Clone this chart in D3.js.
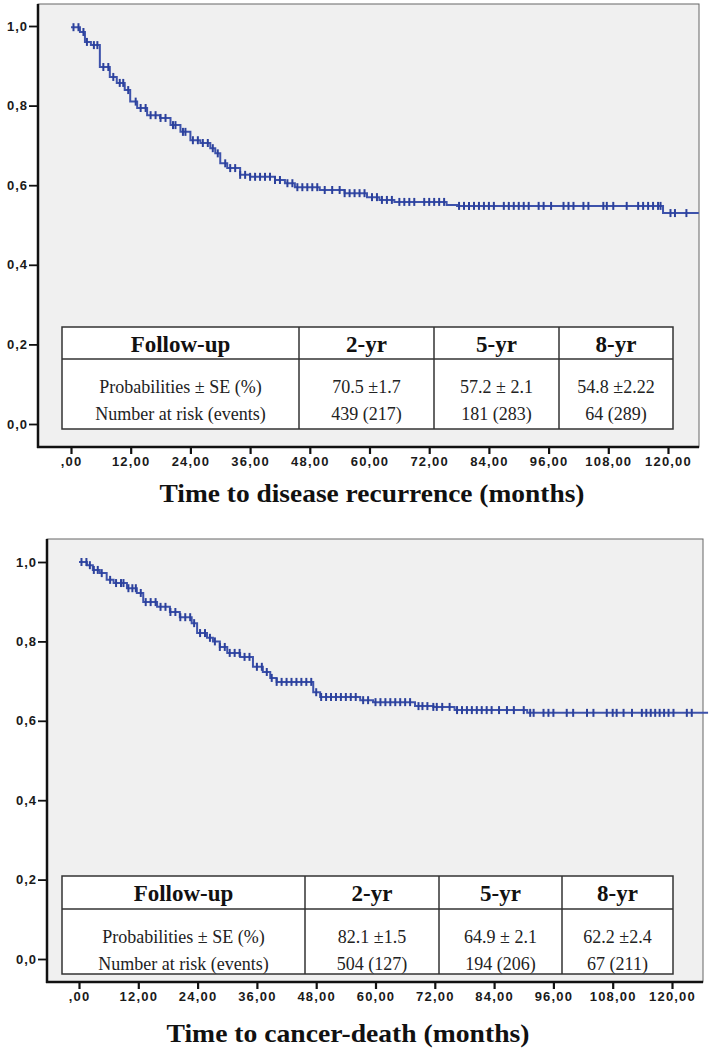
<!DOCTYPE html>
<html><head><meta charset="utf-8">
<script src="https://cdn.jsdelivr.net/npm/d3@7"></script>
<style>body{margin:0;background:#fff}svg{display:block}</style>
</head><body>
<svg id="c" width="709" height="1050"></svg>
<script>
// ---------- data ----------
const xTicks = [0,12,24,36,48,60,72,84,96,108,120];
const xTickLabels = [",00","12,00","24,00","36,00","48,00","60,00","72,00","84,00","96,00","108,00","120,00"];
const yTicks = [0,0.2,0.4,0.6,0.8,1.0];
const yTickLabels = ["0,0","0,2","0,4","0,6","0,8","1,0"];

// Disease recurrence: step changes [month, survival]
const recTimes = [0,1.8,2.8,4.0,5.8,7.8,9.2,10.8,11.9,13.3,15.3,17.9,20,22,24,26,28,29,30,31.4,34,36,41,43,45,50,55,59.5,62,65,75.5,77.6,119,126.2];
const recSurv  = [0.997,0.985,0.96,0.952,0.897,0.872,0.857,0.839,0.81,0.794,0.776,0.769,0.751,0.734,0.713,0.706,0.693,0.68,0.655,0.643,0.626,0.621,0.613,0.605,0.595,0.588,0.58,0.57,0.563,0.558,0.55,0.548,0.53,0.53];
const recCensor = [0.5,1.5,2.5,3.2,4.6,5.3,6.5,7.5,8.5,9.8,10.5,11.5,13,14,15,16,17,18,19,20.5,21,22.5,23,24.5,25.5,26.5,27.5,28.5,29.5,31,32,33,34,35,36,37,38,39,40,41,42,43.5,44.5,45.5,46.5,47.5,48.5,49.5,51,52.5,54,55,56,57,58,59,60.5,61.5,62.5,63.5,64.5,66,67,68,69,71,72,73,74,75,78,79,80,81,82,83,84,85,87,88,89,90,91,92,94,95,96.5,99,100,101,103,104,107,107.7,109,111.7,114,115,116,117,118,118.5,120.5,121.4,123.7];

// Cancer death
const deathTimes = [0,1.6,2.8,4.2,5.6,7,9.7,11.7,13,15.8,18.4,20.4,22.8,23.9,25.9,27.1,28.5,30,32.6,35.2,37.2,38.7,40,47.4,48.8,56.9,59.5,68,71.7,76,90.7,127.3];
const deathSurv  = [1.0,0.992,0.98,0.972,0.955,0.947,0.934,0.922,0.899,0.887,0.874,0.861,0.846,0.821,0.809,0.8,0.786,0.771,0.761,0.736,0.723,0.708,0.698,0.672,0.66,0.652,0.647,0.637,0.635,0.627,0.62,0.62];
const deathCensor = [0.5,1.5,2.2,3,3.8,4.6,6.3,7.5,8.5,9,10,10.8,11.5,12.5,13.5,14.5,15.5,16.5,17.5,18.5,19.5,20.5,21.5,22.5,23.3,24.5,25.5,26.5,27.5,28.5,29.5,30.5,31.5,32.5,33.5,34.5,36,37,38,39,40,41,42,43,44,45,46,47,48,49,50,51,52,53,54,55,56,57.5,58.5,60,61,62,63,64,65,66,67,68.7,69.5,70.5,71.7,72.4,73.5,75,76.5,77.5,78.5,79.5,80.5,81.5,82.5,83.5,85,86.6,88,90,91.3,92,94,95,96,98.7,100,102.8,104.1,106.8,108,108.8,110.2,111.9,113.9,114.8,115.7,116.6,117.5,118.4,119.3,120.3,123,124];

// tables
const colHeads = ["Follow-up","2-yr","5-yr","8-yr"];
const rowLabels = ["Probabilities \u00b1 SE (%)","Number at risk (events)"];
const recProb = ["70.5 \u00b11.7","57.2 \u00b1 2.1","54.8 \u00b12.22"];
const recRisk = ["439 (217)","181 (283)","64 (289)"];
const deathProb = ["82.1 \u00b11.5","64.9 \u00b1 2.1","62.2 \u00b12.4"];
const deathRisk = ["504 (127)","194 (206)","67 (211)"];
const recTitle = "Time to disease recurrence (months)";
const deathTitle = "Time to cancer-death (months)";

// ---------- drawing ----------
const svg = d3.select("#c");
const LINE = "#3d52ab", MARK = "#2c419c";

function panel(cfg){
  const g = svg.append("g");
  const x = d3.scaleLinear().domain([0,120]).range([cfg.x0, cfg.x120]);
  const y = d3.scaleLinear().domain([0,1]).range([cfg.y0, cfg.y1]);
  const F = cfg.frame;
  g.append("rect").attr("x",F.l).attr("y",F.t).attr("width",F.r-F.l).attr("height",F.b-F.t)
    .attr("fill","#f0f0f0").attr("stroke","#666").attr("stroke-width",1);
  // curve
  const pts = cfg.times.map((t,i)=>[t,cfg.surv[i]]);
  const line = d3.line().x(d=>x(d[0])).y(d=>y(d[1])).curve(d3.curveStepAfter);
  g.append("path").attr("d",line(pts)).attr("fill","none").attr("stroke",LINE).attr("stroke-width",2);
  // censor marks
  const survAt = t => { let v = cfg.surv[0]; for(let i=0;i<cfg.times.length;i++){ if(cfg.times[i]<=t) v=cfg.surv[i]; } return v; };
  g.selectAll("line.cm").data(cfg.censor).join("line").attr("class","cm")
    .attr("x1",d=>x(d)).attr("x2",d=>x(d))
    .attr("y1",d=>y(survAt(d))-4).attr("y2",d=>y(survAt(d))+4)
    .attr("stroke",MARK).attr("stroke-width",2);
  // axes (thick left & bottom)
  const xa = d3.axisBottom(x).tickValues(xTicks).tickFormat((d,i)=>xTickLabels[i]).tickSize(7).tickSizeOuter(0);
  const xg = g.append("g").attr("transform",`translate(0,${F.b})`).call(xa);
  xg.select(".domain").remove();
  xg.selectAll(".tick line").attr("stroke","#111").attr("stroke-width",2.2);
  xg.selectAll(".tick text").attr("font-family","Liberation Sans, Arial, sans-serif").attr("font-weight","bold")
    .attr("font-size",13).attr("letter-spacing","1.2px").attr("fill","#1a1a1a").attr("dy","0.95em").attr("y",7);
  const ya = d3.axisLeft(y).tickValues(yTicks).tickFormat((d,i)=>yTickLabels[i]).tickSize(9).tickSizeOuter(0);
  const yg = g.append("g").attr("transform",`translate(${F.l},0)`).call(ya);
  yg.select(".domain").remove();
  yg.selectAll(".tick line").attr("stroke","#111").attr("stroke-width",1.8);
  yg.selectAll(".tick text").attr("font-family","Liberation Sans, Arial, sans-serif").attr("font-weight","bold")
    .attr("font-size",13).attr("letter-spacing","1px").attr("fill","#1a1a1a").attr("x",-10);
  g.append("line").attr("x1",F.l).attr("x2",F.l).attr("y1",F.t).attr("y2",F.b+1).attr("stroke","#111").attr("stroke-width",2.5);
  g.append("line").attr("x1",F.l-1).attr("x2",F.r).attr("y1",F.b).attr("y2",F.b).attr("stroke","#111").attr("stroke-width",2.5);
  // table
  const T = cfg.table;
  const tg = g.append("g");
  tg.append("rect").attr("x",T.l).attr("y",T.t).attr("width",T.r-T.l).attr("height",T.b-T.t)
    .attr("fill","#fff").attr("stroke","#333").attr("stroke-width",1.5);
  tg.append("line").attr("x1",T.l).attr("x2",T.r).attr("y1",T.h).attr("y2",T.h).attr("stroke","#333").attr("stroke-width",1.5);
  T.cols.forEach(cx=>tg.append("line").attr("x1",cx).attr("x2",cx).attr("y1",T.t).attr("y2",T.b).attr("stroke","#333").attr("stroke-width",1.5));
  const edges = [T.l, ...T.cols, T.r];
  colHeads.forEach((h,i)=>{
    tg.append("text").attr("x",(edges[i]+edges[i+1])/2).attr("y",T.hb).attr("text-anchor","middle")
      .attr("font-family","Liberation Serif, Times New Roman, serif").attr("font-weight","bold").attr("font-size",23).attr("fill","#111").text(h);
  });
  const rows = [[rowLabels[0],...cfg.prob],[rowLabels[1],...cfg.risk]];
  rows.forEach((r,ri)=>{
    r.forEach((s,i)=>{
      tg.append("text").attr("x",(edges[i]+edges[i+1])/2).attr("y",T.rb[ri]).attr("text-anchor","middle")
        .attr("font-family","Liberation Serif, Times New Roman, serif").attr("font-size",18).attr("fill","#222").text(s);
    });
  });
  // title
  g.append("text").attr("x",cfg.titleX).attr("y",cfg.titleY).attr("text-anchor","middle")
    .attr("font-family","Liberation Serif, Times New Roman, serif").attr("font-weight","bold").attr("font-size",26)
    .attr("textLength",cfg.titleW).attr("lengthAdjust","spacingAndGlyphs").attr("fill","#111").text(cfg.title);
}

panel({x0:71,x120:668,y0:424,y1:26,frame:{l:38,r:699,t:4,b:447},
  times:recTimes,surv:recSurv,censor:recCensor,prob:recProb,risk:recRisk,
  table:{l:62,r:673,t:327,h:359,b:429,cols:[299,434,559],hb:352,rb:[393,420]},
  title:recTitle,titleX:372,titleY:502,titleW:425});
panel({x0:79,x120:672,y0:959,y1:562,frame:{l:47,r:703,t:539,b:982},
  times:deathTimes,surv:deathSurv,censor:deathCensor,prob:deathProb,risk:deathRisk,
  table:{l:62,r:673,t:876,h:909,b:974,cols:[305,439,562],hb:901,rb:[943,970]},
  title:deathTitle,titleX:348,titleY:1042,titleW:363});
</script>
</body></html>
